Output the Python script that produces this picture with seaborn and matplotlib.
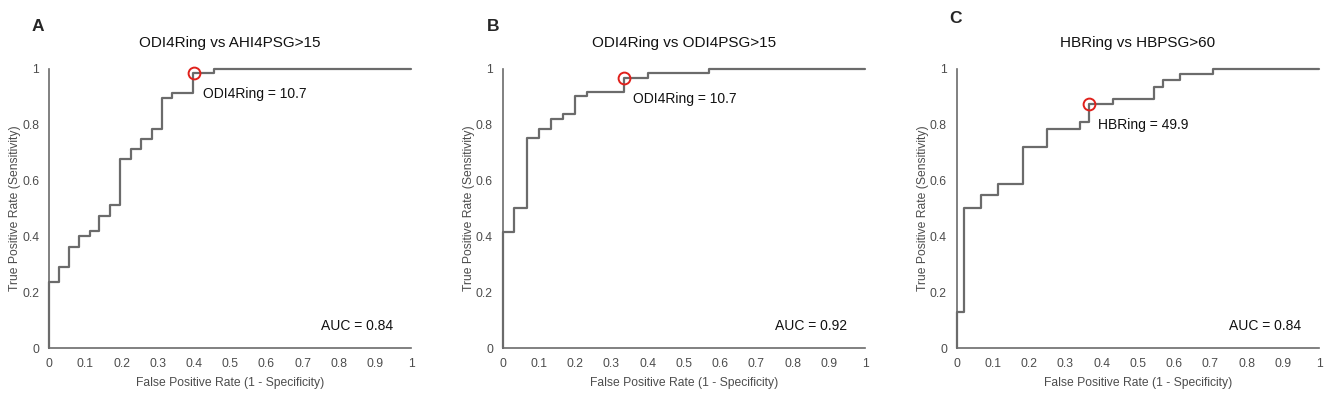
import numpy as np
import matplotlib
matplotlib.use('Agg')
import matplotlib.pyplot as plt
import seaborn as sns

# ROC staircase corners
fpr_a = [0, 0, 0.027, 0.055, 0.084, 0.112, 0.139, 0.168, 0.197, 0.226, 0.255, 0.283, 0.311, 0.34, 0.397, 0.455, 1.0]
tpr_a = [0, 0.236, 0.292, 0.364, 0.402, 0.42, 0.475, 0.513, 0.677, 0.712, 0.748, 0.784, 0.895, 0.913, 0.984, 1.0, 1.0]

fpr_b = [0, 0, 0.031, 0.066, 0.1, 0.132, 0.167, 0.2, 0.232, 0.335, 0.402, 0.57, 1.0]
tpr_b = [0, 0.418, 0.501, 0.752, 0.785, 0.82, 0.838, 0.903, 0.919, 0.969, 0.987, 1.0, 1.0]

fpr_c = [0, 0, 0.02, 0.067, 0.113, 0.182, 0.249, 0.341, 0.366, 0.431, 0.545, 0.57, 0.615, 0.707, 1.0]
tpr_c = [0, 0.129, 0.501, 0.547, 0.588, 0.72, 0.784, 0.809, 0.874, 0.893, 0.937, 0.961, 0.982, 1.0, 1.0]

panels = ['A', 'B', 'C']
titles = ['ODI4Ring vs AHI4PSG>15', 'ODI4Ring vs ODI4PSG>15', 'HBRing vs HBPSG>60']
cut_fpr = [0.40, 0.335, 0.366]
cut_tpr = [0.984, 0.969, 0.874]
cut_labels = ['ODI4Ring = 10.7', 'ODI4Ring = 10.7', 'HBRing = 49.9']
aucs = ['AUC = 0.84', 'AUC = 0.92', 'AUC = 0.84']

sns.set_style('white')
plt.rcParams['font.family'] = ['Liberation Sans', 'DejaVu Sans']

LINE = '#6b6b6b'
TXT = '#4d4d4d'

fig = plt.figure(figsize=(13.25, 3.96), dpi=100)
lefts = [0.037, 0.3794, 0.722]
letter_x = [0.0287, 0.372, 0.7215]
letter_y = [0.934, 0.934, 0.954]
curves = [(fpr_a, tpr_a), (fpr_b, tpr_b), (fpr_c, tpr_c)]

for i, (fx, ty) in enumerate(curves):
    ax = fig.add_axes([lefts[i], 0.1205, 0.2735, 0.7055])
    sns.lineplot(x=fx, y=ty, ax=ax, sort=False, estimator=None,
                 drawstyle='steps-post', color=LINE, linewidth=1.6, clip_on=False)
    ax.plot(cut_fpr[i], cut_tpr[i], 'o', ms=8.5, mfc='none', mec='#e0201b', mew=1.4, clip_on=False)
    ax.text(cut_fpr[i] + 0.025, cut_tpr[i] - 0.075, cut_labels[i], fontsize=10, color='#111111', va='center')
    ax.text(0.95, 0.08, aucs[i], fontsize=10, color='#111111', ha='right', va='center')
    ax.set_xlim(0, 1)
    ax.set_ylim(0, 1)
    ax.set_xticks(np.arange(0, 1.01, 0.1))
    ax.set_xticklabels(['0'] + [f'{v:.1f}' for v in np.arange(0.1, 0.95, 0.1)] + ['1'])
    ax.set_yticks(np.arange(0, 1.01, 0.2))
    ax.set_yticklabels(['0', '0.2', '0.4', '0.6', '0.8', '1'])
    ax.tick_params(axis='both', length=3, width=1, color=LINE, labelsize=8.7, labelcolor=TXT, pad=4)
    ax.set_xlabel('False Positive Rate (1 - Specificity)', fontsize=8.7, color=TXT, labelpad=5)
    ax.set_ylabel('True Positive Rate (Sensitivity)', fontsize=8.7, color=TXT, labelpad=1)
    ax.set_title(titles[i], fontsize=11, color='#111111', pad=16)
    sns.despine(ax=ax)
    for s in ['left', 'bottom']:
        ax.spines[s].set_color(LINE)
        ax.spines[s].set_linewidth(1.2)
    fig.text(letter_x[i], letter_y[i], panels[i], fontsize=12.5, fontweight='bold', ha='center', va='center')

fig.savefig('out.png', dpi=100)
